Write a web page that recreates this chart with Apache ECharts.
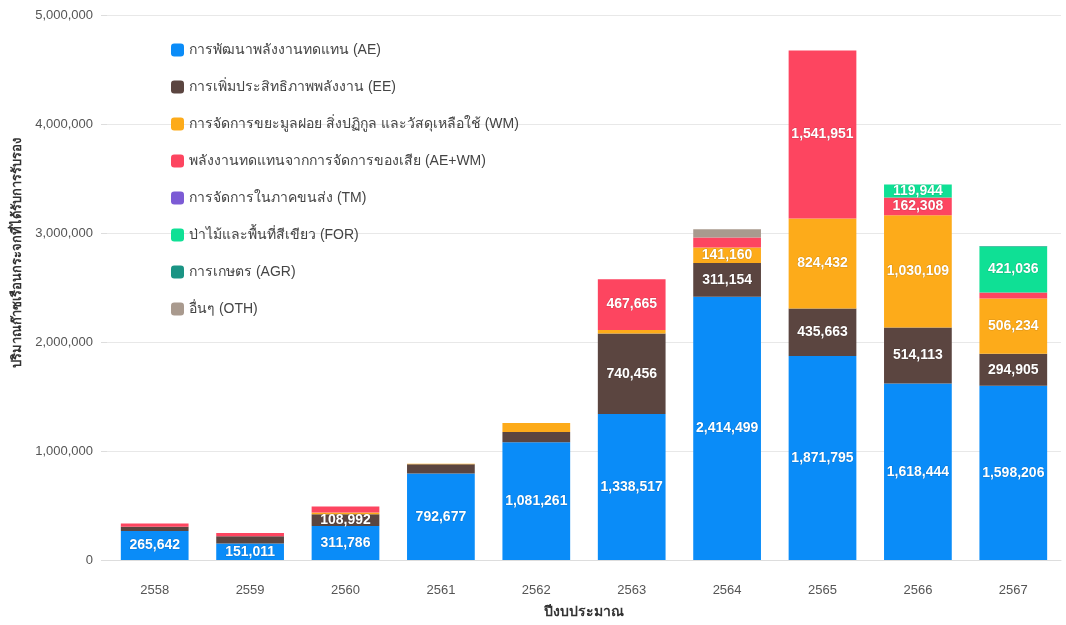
<!DOCTYPE html>
<html>
<head>
<meta charset="utf-8">
<script src="https://cdn.jsdelivr.net/npm/echarts@6/dist/echarts.min.js"></script>
<style>html,body{margin:0;padding:0;background:#fff}#c{width:1066px;height:625px}</style>
</head>
<body>
<div id="c"></div>
<script>
const years = ['2558','2559','2560','2561','2562','2563','2564','2565','2566','2567'];
const seriesNames = [
  'การพัฒนาพลังงานทดแทน (AE)',
  'การเพิ่มประสิทธิภาพพลังงาน (EE)',
  'การจัดการขยะมูลฝอย สิ่งปฏิกูล และวัสดุเหลือใช้ (WM)',
  'พลังงานทดแทนจากการจัดการของเสีย (AE+WM)',
  'การจัดการในภาคขนส่ง (TM)',
  'ป่าไม้และพื้นที่สีเขียว (FOR)',
  'การเกษตร (AGR)',
  'อื่นๆ (OTH)'
];
const AE  = [265642, 151011, 311786, 792677, 1081261, 1338517, 2414499, 1871795, 1618444, 1598206];
const EE  = [40000, 67000, 108992, 85000, 92000, 740456, 311154, 435663, 514113, 294905];
const WM  = [0, 0, 15000, 5000, 83000, 30000, 141160, 824432, 1030109, 506234];
const AEWM= [30000, 30000, 55000, 0, 0, 467665, 92000, 1541951, 162308, 55000];
const TM  = [0, 0, 0, 0, 0, 0, 0, 0, 0, 0];
const FOR = [0, 0, 0, 0, 0, 0, 0, 0, 119944, 421036];
const AGR = [0, 0, 0, 0, 0, 0, 0, 0, 0, 5000];
const OTH = [0, 0, 0, 0, 0, 0, 76000, 0, 0, 0];
const yTicks = [0, 1000000, 2000000, 3000000, 4000000, 5000000];

const dataSets = [AE, EE, WM, AEWM, TM, FOR, AGR, OTH];
const colors = ['#0a8cf8', '#5b4540', '#fdab1a', '#fd4560', '#7c5bd5', '#0fe095', '#1a9484', '#a99a8e'];

const chart = echarts.init(document.getElementById('c'));
const fmt = v => v.toLocaleString('en-US');
chart.setOption({
  animation: false,
  color: colors,
  textStyle: { fontFamily: 'Arial, "Liberation Sans", "Noto Sans", sans-serif' },
  grid: { left: 107, right: 5, top: 15, bottom: 65 },
  legend: {
    orient: 'vertical', left: 166, top: 38,
    itemWidth: 13, itemHeight: 13, itemGap: 23,
    icon: 'roundRect',
    textStyle: { fontSize: 14, color: '#444' },
    data: seriesNames
  },
  xAxis: {
    type: 'category', data: years,
    name: 'ปีงบประมาณ', nameLocation: 'middle', nameGap: 45,
    nameTextStyle: { fontSize: 14, fontWeight: 'bold', color: '#333' },
    axisLine: { lineStyle: { color: '#ddd' } },
    axisTick: { length: 10, lineStyle: { color: '#ddd' } },
    axisLabel: { fontSize: 13, color: '#555', margin: 24 }
  },
  yAxis: {
    type: 'value', min: yTicks[0], max: yTicks[yTicks.length - 1], interval: 1000000,
    name: 'ปริมาณก๊าซเรือนกระจกที่ได้รับการรับรอง', nameLocation: 'middle', nameGap: 82,
    nameTextStyle: { fontSize: 13, fontWeight: 'bold', color: '#333', padding: [0, 0, 0, 70] },
    axisLine: { show: false }, axisTick: { show: true, length: 6, lineStyle: { color: '#ddd' } },
    splitLine: { lineStyle: { color: '#e8e8e8' } },
    axisLabel: { fontSize: 13, color: '#555', margin: 14, formatter: v => fmt(v) }
  },
  series: seriesNames.map((n, i) => ({
    name: n, type: 'bar', stack: 'total', barWidth: '71%',
    data: dataSets[i],
    itemStyle: { color: colors[i] },
    label: {
      show: true, position: 'inside', color: '#fff', fontSize: 14, fontWeight: 'bold',
      textBorderColor: 'rgba(0,0,0,0.15)', textBorderWidth: 1,
      formatter: p => p.value >= 100000 ? fmt(p.value) : ''
    }
  }))
});
</script>
</body>
</html>
